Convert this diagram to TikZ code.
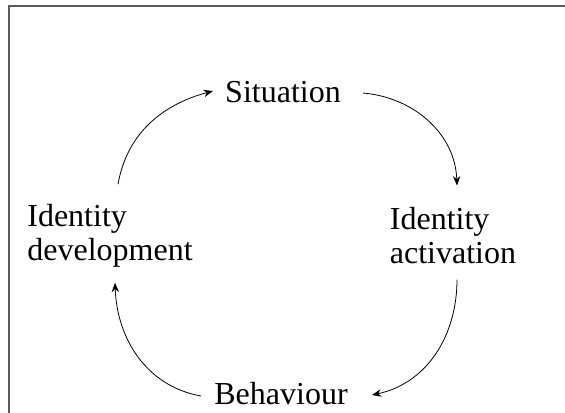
\documentclass[tikz,border=0pt]{standalone}
\usepackage{fontspec}
\setmainfont{Liberation Serif}
\usetikzlibrary{arrows.meta}

\begin{document}
\begin{tikzpicture}[x=0.75pt, y=-0.75pt,
    every node/.style={font=\fontsize{24}{25.5}\selectfont, inner sep=0pt},
    stage/.style={align=left},
    link/.style={-{Stealth[length=7pt,width=5.5pt]}, line width=0.6pt}]
  \useasboundingbox (0,0) rectangle (565,412);
  % frame, cut off at the right and bottom
  \draw[line width=1.5pt, black!65] (8.5,420) -- (8.5,5.5) -- (570,5.5);

  \node[stage] (sit) at (283,92) {Situation};
  \node[stage] (act) at (453,236) {Identity\\activation};
  \node[stage] (beh) at (281,394) {Behaviour};
  \node[stage] (dev) at (110,236) {Identity\\development};

  \draw[link] ([shift={(8,-20)}]dev.north) to[out=80, in=195] ([shift={(-12,-1)}]sit.west);
  \draw[link] ([shift={(22,1)}]sit.east) to[out=-5, in=92] ([shift={(4,-22)}]act.north);
  \draw[link] ([shift={(4,15)}]act.south) to[out=-90, in=12] ([shift={(24,1)}]beh.east);
  \draw[link] ([shift={(-13,2)}]beh.west) to[out=170, in=-88] ([shift={(5,15)}]dev.south);
\end{tikzpicture}
\end{document}
